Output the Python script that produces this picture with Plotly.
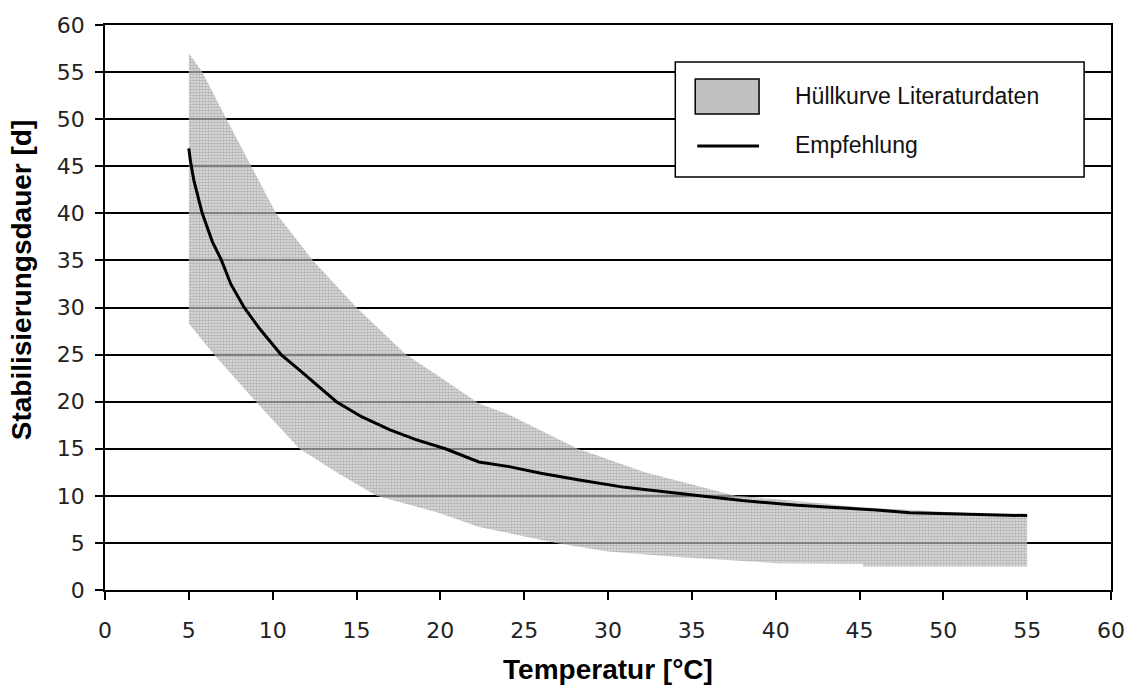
import plotly.graph_objects as go

# Recommended stabilisation period (Empfehlung)
temp_line = [5.0, 5.1, 5.3, 5.8, 6.4, 6.95, 7.5, 8.3, 9.2, 10.5, 11.5, 12.5, 13.8,
             15.3, 17.0, 18.5, 20.3, 22.3, 24.1, 26.0, 28.2, 31.0, 33.8, 36.0,
             38.0, 41.3, 44.0, 46.0, 48.0, 52.0, 55.0]
dauer_line = [46.9, 45.5, 43.5, 40.0, 37.0, 35.0, 32.5, 30.0, 27.8, 25.0, 23.5, 22.0, 20.0,
              18.4, 17.0, 16.0, 15.0, 13.6, 13.1, 12.4, 11.7, 10.9, 10.3, 9.9,
              9.5, 9.0, 8.7, 8.5, 8.2, 8.0, 7.9]

# Envelope of literature data (Hüllkurve), upper and lower boundary
env_upper_t = [5.0, 5.8, 7.25, 8.7, 10.2, 12.4, 15.0, 17.95, 20.0, 22.3, 24.0,
               28.2, 32.2, 37.6, 40.1, 43.3, 45.0, 50.0, 55.0]
env_upper_d = [57.0, 55.0, 50.0, 45.0, 40.0, 35.0, 30.0, 25.0, 22.6, 19.8, 18.7,
               15.0, 12.5, 10.0, 9.65, 9.1, 8.8, 8.3, 7.9]
env_lower_t = [5.0, 6.5, 9.0, 11.6, 14.0, 16.2, 19.9, 22.3, 24.1, 26.9, 30.0,
               34.2, 40.1, 45.2, 45.2, 55.0]
env_lower_d = [28.3, 25.0, 20.0, 15.0, 12.3, 10.0, 8.2, 6.7, 6.0, 5.0, 4.1,
               3.5, 2.85, 2.8, 2.5, 2.5]

x_ticks = list(range(0, 61, 5))
y_ticks = list(range(0, 61, 5))

series_names = ["Hüllkurve Literaturdaten", "Empfehlung"]
x_title = "Temperatur [°C]"
y_title = "Stabilisierungsdauer [d]"

W, H = 1137, 692
ML, MR, MT, MB = 105, 23, 25, 102
PW, PH = W - ML - MR, H - MT - MB

TICK_FONT = dict(family="DejaVu Sans", size=22, color="#222")
TEXT_FONT = dict(family="Liberation Sans, Arial", size=23, color="#111")
TITLE_FONT = dict(family="Liberation Sans, Arial", size=28, color="#000")

# stippled grey fill, lets the grid lines show through
STIPPLE = dict(shape=".", fgcolor="rgb(135,135,135)", bgcolor="rgba(205,205,205,0.6)",
               size=3, solidity=0.6, fillmode="overlay")


def px_x(p):
    return (p - ML) / PW


def px_y(p):
    return (H - MB - p) / PH


fig = go.Figure()

# closed polygon: upper boundary left to right, lower boundary back
poly_t = env_upper_t + env_lower_t[::-1]
poly_d = env_upper_d + env_lower_d[::-1]
fig.add_trace(go.Scatter(
    x=poly_t, y=poly_d, mode="lines", fill="toself",
    fillcolor="rgba(195,195,195,0.5)", fillpattern=STIPPLE,
    line=dict(width=0), name=series_names[0], showlegend=False,
    hoverinfo="skip"))

fig.add_trace(go.Scatter(
    x=temp_line, y=dauer_line, mode="lines",
    line=dict(color="black", width=3), name=series_names[1], showlegend=False))

axis_common = dict(
    showline=True, linecolor="black", linewidth=1.5, mirror=True,
    ticks="outside", ticklen=8, tickwidth=1.5, tickcolor="black",
    tickfont=TICK_FONT, zeroline=False)

fig.update_xaxes(range=[0, 60], tickvals=x_ticks, showgrid=False,
                 ticklabelstandoff=12,
                 title=dict(text=f"<b>{x_title}</b>", font=TITLE_FONT, standoff=17),
                 **axis_common)
fig.update_yaxes(range=[0, 60], tickvals=y_ticks, showgrid=True,
                 gridcolor="black", gridwidth=1.5, ticklabelstandoff=6,
                 **axis_common)

# legend box with fill swatch, line swatch and labels
shapes = [
    dict(type="rect", xref="paper", yref="paper",
         x0=px_x(677), x1=px_x(1087), y0=px_y(177), y1=px_y(62),
         line=dict(color="black", width=1.5), fillcolor="white", layer="above"),
    dict(type="rect", xref="paper", yref="paper",
         x0=px_x(697), x1=px_x(761), y0=px_y(114), y1=px_y(79),
         line=dict(color="black", width=1.5), fillcolor="rgb(192,192,192)",
         layer="above"),
    dict(type="line", xref="paper", yref="paper",
         x0=px_x(699), x1=px_x(761), y0=px_y(146), y1=px_y(146),
         line=dict(color="black", width=3), layer="above"),
]
annotations = [
    dict(text=series_names[0], xref="paper", yref="paper", x=px_x(795), y=px_y(96),
         xanchor="left", yanchor="middle", showarrow=False, font=TEXT_FONT),
    dict(text=series_names[1], xref="paper", yref="paper", x=px_x(795), y=px_y(145),
         xanchor="left", yanchor="middle", showarrow=False, font=TEXT_FONT),
    dict(text=f"<b>{y_title}</b>", xref="paper", yref="paper",
         x=px_x(21), y=px_y(280), xanchor="center", yanchor="middle",
         textangle=-90, showarrow=False, font=TITLE_FONT),
]

fig.update_layout(
    width=W, height=H, margin=dict(l=ML, r=MR, t=MT, b=MB),
    paper_bgcolor="white", plot_bgcolor="white",
    shapes=shapes, annotations=annotations, showlegend=False)

fig.write_html("out.html")
